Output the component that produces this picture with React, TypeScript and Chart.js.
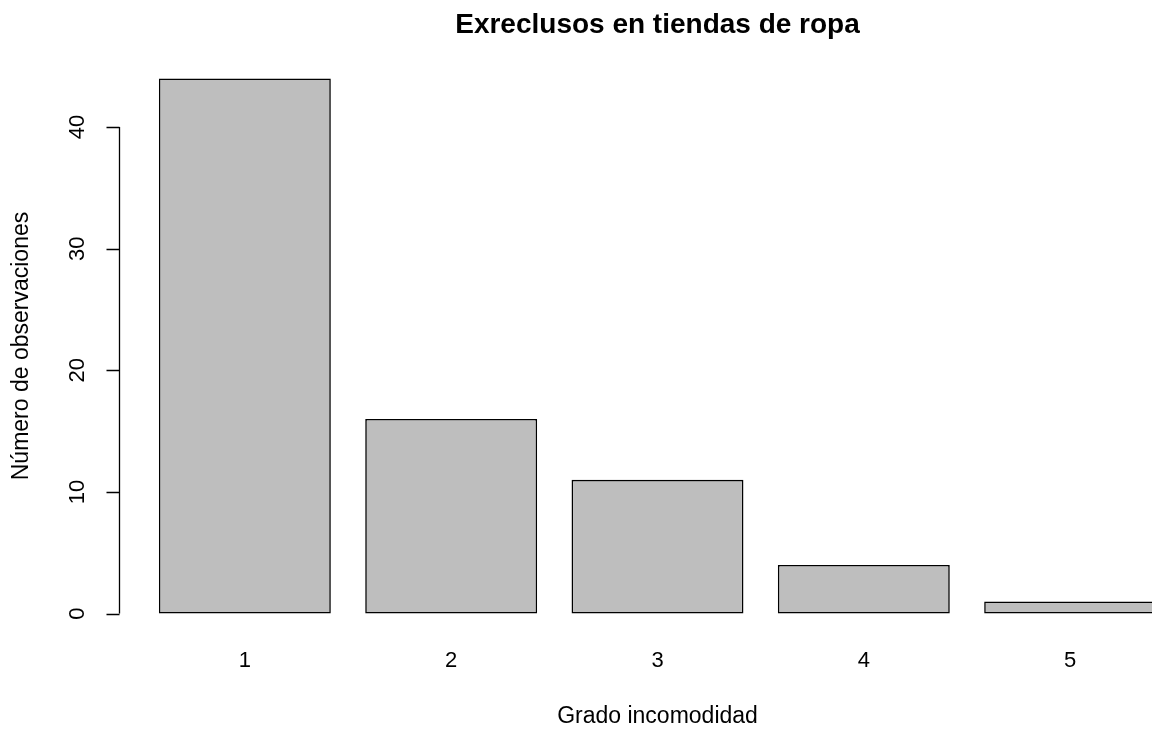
import { useEffect, useRef } from 'react';
import { Chart, registerables } from 'chart.js';

Chart.register(...registerables);

// ---- data ----
const categories = ['1', '2', '3', '4', '5'];
const counts = [44, 16, 11, 4, 1];
const yTicks = [0, 10, 20, 30, 40];
const titleText = 'Exreclusos en tiendas de ropa';
const xTitle = 'Grado incomodidad';
const yTitle = 'Número de observaciones';

// R barplot convention: bar width 1, space 0.2, axis ranges extended by 4%
const BAR_W = 1;
const SPACE = 0.2;
const centers = categories.map((_, i) => SPACE * (i + 1) + BAR_W * i + BAR_W / 2);
const xLo = SPACE;
const xHi = centers[centers.length - 1] + BAR_W / 2;
const xExt = (xHi - xLo) * 0.04;
const yTop = Math.max(...counts);
const yExt = yTop * 0.04;

const FONT = '"Liberation Sans", Arial, Helvetica, sans-serif';
const CW = 1260;
const CH = 731;

const rPlot = {
  id: 'rplot',
  afterDraw(chart: any) {
    const { ctx, chartArea: a, scales } = chart;
    const x = scales.x;
    const y = scales.y;
    ctx.save();
    ctx.strokeStyle = '#000';
    ctx.lineWidth = 1.3;
    const ax = Math.round(a.left) + 0.5;
    ctx.beginPath();
    ctx.moveTo(ax, y.getPixelForValue(yTicks[0]));
    ctx.lineTo(ax, y.getPixelForValue(yTicks[yTicks.length - 1]));
    yTicks.forEach((t) => {
      const py = Math.round(y.getPixelForValue(t)) + 0.5;
      ctx.moveTo(ax, py);
      ctx.lineTo(ax - 13, py);
    });
    ctx.stroke();

    ctx.fillStyle = '#000';
    ctx.textAlign = 'center';
    ctx.textBaseline = 'middle';
    ctx.font = `22px ${FONT}`;
    yTicks.forEach((t) => {
      ctx.save();
      ctx.translate(a.left - 41, y.getPixelForValue(t));
      ctx.rotate(-Math.PI / 2);
      ctx.fillText(String(t), 0, 0);
      ctx.restore();
    });
    categories.forEach((c, i) => {
      ctx.fillText(c, x.getPixelForValue(centers[i]), a.bottom + 26);
    });

    const cx = (a.left + a.right) / 2;
    const cy = (a.top + a.bottom) / 2;
    ctx.font = `23px ${FONT}`;
    ctx.fillText(xTitle, cx, a.bottom + 82);
    ctx.save();
    ctx.translate(a.left - 97, cy);
    ctx.rotate(-Math.PI / 2);
    ctx.fillText(yTitle, 0, 0);
    ctx.restore();

    ctx.font = `bold 28px ${FONT}`;
    ctx.fillText(titleText, cx, a.top - 32);
    ctx.restore();
  },
};

export default function App() {
  const ref = useRef<HTMLCanvasElement>(null);
  useEffect(() => {
    if (!ref.current) return;
    const chart = new Chart(ref.current, {
      type: 'bar',
      data: {
        datasets: [
          {
            data: counts.map((v, i) => ({ x: centers[i], y: v })),
            backgroundColor: '#BEBEBE',
            borderColor: '#000000',
            borderWidth: 1.6,
            borderSkipped: false,
            categoryPercentage: 1,
            barPercentage: BAR_W / (BAR_W + SPACE),
          },
        ],
      },
      options: {
        animation: false,
        responsive: false,
        devicePixelRatio: 1,
        layout: { padding: { left: 119, right: CW - 1196, top: 57, bottom: CH - 635 } },
        plugins: { legend: { display: false }, tooltip: { enabled: false }, title: { display: false } },
        scales: {
          x: {
            type: 'linear',
            offset: false,
            min: xLo - xExt,
            max: xHi + xExt,
            display: false,
            afterBuildTicks: (scale: any) => {
              scale.ticks = centers.map((v) => ({ value: v }));
            },
          },
          y: { type: 'linear', min: -yExt, max: yTop + yExt, display: false },
        },
      },
      plugins: [rPlot],
    });
    return () => chart.destroy();
  }, []);
  return (
    <div style={{ position: 'fixed', left: 0, top: 0, width: '100vw', height: '100vh', overflow: 'hidden', background: '#fff' }}>
      <canvas ref={ref} width={CW} height={CH} style={{ position: 'absolute', left: 0, top: 0, width: CW, height: CH }} />
    </div>
  );
}
